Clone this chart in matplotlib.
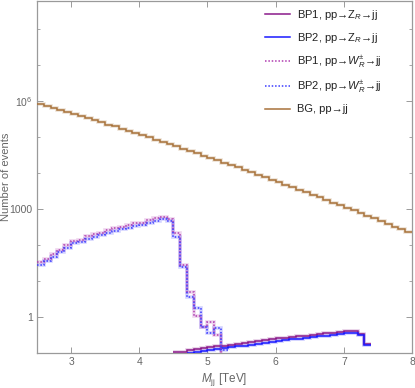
import numpy as np
import matplotlib
matplotlib.use("Agg")
import matplotlib.pyplot as plt
from matplotlib.ticker import FixedLocator, NullFormatter, NullLocator

plt.rcParams['font.family'] = ['Liberation Sans', 'DejaVu Sans']
plt.rcParams['mathtext.fontset'] = 'custom'
plt.rcParams['mathtext.rm'] = 'Liberation Sans'
plt.rcParams['mathtext.it'] = 'Liberation Sans:italic'
plt.rcParams['mathtext.bf'] = 'Liberation Sans:bold'

# ---- data ----
bin_width = 0.1
bg_start = 2.5
bg_counts = [8.3e5, 7.3e5, 6.4e5, 5.7e5, 5.0e5, 4.4e5, 3.8e5, 3.3e5, 2.9e5, 2.55e5,
             2.2e5, 1.95e5, 1.7e5, 1.47e5, 1.28e5, 1.11e5, 9.7e4, 8.4e4, 7.3e4, 6.3e4,
             5.45e4, 4.7e4, 4.07e4, 3.5e4, 3.0e4, 2.6e4, 2.24e4, 1.92e4, 1.65e4, 1.42e4,
             1.22e4, 1.04e4, 8.9e3, 7.6e3, 6.5e3, 5.55e3, 4.7e3, 4.0e3, 3.4e3, 2.9e3,
             2.5e3, 2.1e3, 1.78e3, 1.51e3, 1.28e3, 1.08e3, 910, 770, 650, 545,
             460, 385, 325, 272, 229]

wr_start = 2.5
wr_bp1 = [34, 41, 56, 73, 100, 132, 138, 178, 202, 220, 261, 290, 323, 359, 400, 417,
          495, 551, 587, 516, 211, 27.5, 4.9, 1.1, 0.52, 0.72, 0.32, 0]
wr_bp2 = [28, 35, 47, 62, 85, 110, 118, 150, 170, 188, 220, 245, 275, 305, 340, 360,
          420, 470, 520, 450, 166, 25, 3.6, 1.8, 0.52, 0.36, 0.5, 0.12]

zr_bp1_start = 4.5
zr_bp1 = [0.107, 0.107, 0.121, 0.129, 0.138, 0.147, 0.156, 0.156, 0.167, 0.178,
          0.190, 0.202, 0.215, 0.230, 0.245, 0.261, 0.270, 0.278, 0.297, 0.306,
          0.316, 0.337, 0.359, 0.371, 0.396, 0.408, 0.408, 0.337, 0.178]
zr_bp2_start = 4.7
zr_bp2 = [0.100, 0.107, 0.114, 0.121, 0.129, 0.138, 0.147, 0.156, 0.156, 0.167,
          0.178, 0.190, 0.202, 0.215, 0.230, 0.245, 0.253, 0.261, 0.278, 0.297,
          0.306, 0.316, 0.337, 0.359, 0.359, 0.316, 0.167]

labels = ['BP1, pp\u2192$\\mathrm{Z}_{R}$\u2192jj',
          'BP2, pp\u2192$\\mathrm{Z}_{R}$\u2192jj',
          'BP1, pp\u2192$W_{R}^{\\pm}$\u2192jj',
          'BP2, pp\u2192$W_{R}^{\\pm}$\u2192jj',
          'BG, pp\u2192jj']

c_purple = '#8a1a8a'
c_blue = '#1a1aff'
c_mag = '#b03cb0'
c_blue2 = '#3a3aff'
c_brown = '#a8723a'

fig = plt.figure(figsize=(4.15, 3.88), dpi=100)
ax = fig.add_axes([0.089, 0.090, 0.904, 0.908])


def edges(start, n):
    return start + bin_width * np.arange(n + 1)


def draw(vals, start, color, ls, label):
    v = np.asarray(vals, dtype=float)
    v = np.where(v > 0, v, 1e-4)
    e = edges(start, len(v))
    ax.stairs(v, e, color=color, lw=2.6, alpha=0.22, linestyle='-', baseline=None,
              zorder=2)
    ax.stairs(v, e, color=color, lw=1.1, linestyle=ls, baseline=None, zorder=3)
    ax.plot([], [], color=color, lw=1.1, linestyle=ls, label=label)


dot = (0, (1, 1.2))
draw(zr_bp1, zr_bp1_start, c_purple, '-', labels[0])
draw(zr_bp2, zr_bp2_start, c_blue, '-', labels[1])
draw(wr_bp1, wr_start, c_mag, dot, labels[2])
draw(wr_bp2, wr_start, c_blue2, dot, labels[3])
draw(bg_counts, bg_start, c_brown, '-', labels[4])

ax.set_yscale('log')
ax.set_xlim(2.5, 8)
ax.set_ylim(0.1, 6e8)

gray = '#9a9a9a'
tcol = '#666666'
for s in ax.spines.values():
    s.set_color(gray)
    s.set_linewidth(0.9)

ax.xaxis.set_major_locator(FixedLocator([3, 4, 5, 6, 7, 8]))
ax.xaxis.set_minor_locator(NullLocator())
ax.yaxis.set_major_locator(FixedLocator([1, 1e3, 1e6]))
ax.yaxis.set_minor_locator(FixedLocator([10, 100, 1e4, 1e5, 1e7, 1e8]))
ax.yaxis.set_minor_formatter(NullFormatter())
ax.set_yticklabels(['1', '1000', '$10^{6}$'])
ax.set_xticklabels(['3', '4', '5', '6', '7', '8'])

ax.tick_params(which='both', direction='in', top=True, right=True, color=gray,
               labelcolor=tcol, labelsize=7.5)
ax.tick_params(which='major', length=4, width=0.7, pad=3)
ax.tick_params(which='minor', length=2.5, width=0.6)

ax.set_xlabel('$M_{\\mathrm{jj}}$ [TeV]', color=tcol, fontsize=8.5)
ax.set_ylabel('Number of events', color=tcol, fontsize=8)
ax.xaxis.set_label_coords(0.5, -0.052)
ax.yaxis.set_label_coords(-0.07, 0.5)

leg = ax.legend(loc='upper left', frameon=False, fontsize=8, handlelength=2.3,
                handletextpad=0.6, labelspacing=0.82, borderaxespad=0.0,
                borderpad=0.0, bbox_to_anchor=(0.607, 0.98))
for t in leg.get_texts():
    t.set_color('#222222')

fig.savefig('out.png', dpi=100)
